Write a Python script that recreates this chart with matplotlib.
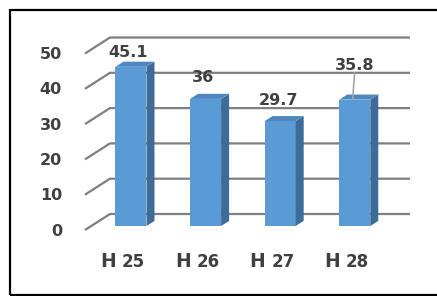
import matplotlib
matplotlib.use("Agg")
import matplotlib.pyplot as plt
from matplotlib.patches import Rectangle

categories = ["25", "26", "27", "28"]
values = [45.1, 36, 29.7, 35.8]
yticks = [0, 10, 20, 30, 40, 50]

# label placement (offset above bar top, in value units)
label_up = [5.3, 7.1, 7.1, 10.9]
label_dx = [0.05, 0.05, 0.055, 0.086]

# pseudo 3d geometry
DX, DY = 0.335, 4.53      # shift for full depth
d0, d1 = 0.25, 0.57       # bar front / back depth
hw = 0.208                # bar half width
wall_l, wall_r = -0.533, 3.489

front_c = "#5B9BD5"
side_c = "#3D6C98"
top_c = "#4F88C0"
grid_c = "#7F7F7F"
txt_c = "#404040"

fig = plt.figure(figsize=(4.37, 2.96), dpi=100)
ax = fig.add_axes([0, 0, 1, 1])
ax.set_xlim(-1.672, 4.186)
ax.set_ylim(-18.7, 65.16)
ax.axis("off")

def pt(x, v, d):
    return x + d * DX, v + d * DY

# gridlines: slanted left part + back wall
for v in yticks:
    x0, y0 = pt(wall_l, v, 0)
    x1, y1 = pt(wall_l, v, 1)
    x2, y2 = pt(wall_r, v, 1)
    ax.plot([x0, x1, x2], [y0, y1, y2], color=grid_c, lw=1.6, zorder=1,
            solid_capstyle="butt")
    ax.text(-0.841, v - 0.3, str(v), ha="right", va="center", fontsize=11.5,
            fontweight="bold", color=txt_c)

for i, v in enumerate(values):
    xl, xr = i - hw, i + hw
    # front face
    fx0, fy0 = pt(xl, 0, d0)
    fx1, fy1 = pt(xr, v, d0)
    ax.fill([fx0, fx1, fx1, fx0], [fy0, fy0, fy1, fy1], color=front_c, zorder=3, lw=0)
    # side face
    sx = [pt(xr, 0, d0)[0], pt(xr, 0, d1)[0], pt(xr, v, d1)[0], pt(xr, v, d0)[0]]
    sy = [pt(xr, 0, d0)[1], pt(xr, 0, d1)[1], pt(xr, v, d1)[1], pt(xr, v, d0)[1]]
    ax.fill(sx, sy, color=side_c, zorder=3, lw=0)
    # top face
    tx = [pt(xl, v, d0)[0], pt(xr, v, d0)[0], pt(xr, v, d1)[0], pt(xl, v, d1)[0]]
    ty = [pt(xl, v, d0)[1], pt(xr, v, d0)[1], pt(xr, v, d1)[1], pt(xl, v, d1)[1]]
    ax.fill(tx, ty, color=top_c, zorder=3, lw=0)

    ly = v + label_up[i]
    ax.text(i + label_dx[i], ly, str(v), ha="center", va="center", fontsize=11.5,
            fontweight="bold", color=txt_c, zorder=5)
    if label_up[i] > 9:
        ax.plot([i + label_dx[i] - 0.005, i + label_dx[i] - 0.03],
                [ly - 2.3, v + 1.3], color="#A6A6A6", lw=1.2, zorder=4)

    # x labels
    ax.text(i - 0.117, -10.4, "H", ha="right", va="baseline", fontsize=13.5,
            fontweight="bold", color=txt_c)
    ax.text(i - 0.037, -10.4, categories[i], ha="left", va="baseline", fontsize=12,
            fontweight="bold", color=txt_c)

# outer frame (right edge is cut off in the original)
fig.patches.append(Rectangle((10 / 437, 1 / 296), 1.2, 285 / 296,
                             transform=fig.transFigure, fill=False,
                             edgecolor="black", lw=1.6, clip_on=False))

fig.savefig("out.png", dpi=100)
